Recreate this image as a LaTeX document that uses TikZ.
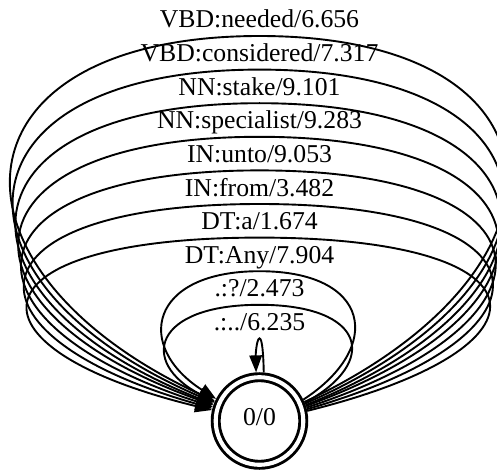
\documentclass[tikz,border=0pt]{standalone}
\usepackage{fontspec}
\usepackage{xfp}
\setmainfont{Liberation Serif}
\usetikzlibrary{arrows.meta}
\newcommand\fstfont{\fontsize{25.7pt}{30pt}\selectfont}
% centre of the state and the radius at which the loops meet its border
\newcommand\stcx{259.5}
\newcommand\stcy{51}
\newcommand\stR{48.75}
% one Newton-like step for the curve parameter where a loop leaves the border
\newcommand\lpstep[2]{\edef\lpU{\fpeval{\lpU*\stR/sqrt((3*(#2)*\lpU*(1-\lpU))^2+((#1)*(\lpU+\lpU^2-\lpU^3))^2)}}}
% #1 label name, #2 apex height above the centre, #3 sideways reach, #4 label text
\newcommand\fstloop[4]{%
  \edef\lpU{\fpeval{\stR/sqrt((3*(#3))^2+(#2)^2)}}%
  \lpstep{#2}{#3}\lpstep{#2}{#3}\lpstep{#2}{#3}\lpstep{#2}{#3}%
  \lpstep{#2}{#3}\lpstep{#2}{#3}\lpstep{#2}{#3}\lpstep{#2}{#3}%
  \edef\lpAng{\fpeval{round(atand((#2)*(\lpU+\lpU^2-\lpU^3),3*(#3)*\lpU*(1-\lpU)),3)}}%
  \edef\lpAngH{\fpeval{180-\lpAng}}%
  \edef\lpAx{\fpeval{round(\stcx+(#3)*(1-\lpU^2),3)}}%
  \edef\lpAxL{\fpeval{round(\stcx-(#3)*(1-\lpU^2),3)}}%
  \edef\lpAy{\fpeval{round(\stcy+(#2)*(1+4*\lpU-2*\lpU^2)/3,3)}}%
  \edef\lpBx{\fpeval{round(\stcx+(#3)*(1-\lpU),3)}}%
  \edef\lpBxL{\fpeval{round(\stcx-(#3)*(1-\lpU),3)}}%
  \edef\lpBy{\fpeval{\stcy+(#2)}}%
  \edef\lpLy{\fpeval{\stcy+(#2)+8}}%
  \draw[fstedge] (q0.\lpAng) .. controls (\lpAx,\lpAy) and (\lpBx,\lpBy) .. (\stcx,\lpBy)
    .. controls (\lpBxL,\lpBy) and (\lpAxL,\lpAy) .. (q0.\lpAngH);
  \node[fstlabel] (#1) at (\stcx,\lpLy) {#4};
}
\begin{document}
\begin{tikzpicture}[x=1pt,y=1pt,
  state/.style={circle, draw, line width=2.9pt, double, double distance=4.1pt,
    minimum size=87.6pt, inner sep=0pt, outer sep=4.95pt,
    text height=14pt, text depth=4.6pt, font=\fstfont},
  fstedge/.style={line width=1.9pt, -{Triangle[length=17pt,width=12.5pt]}},
  fstlabel/.style={anchor=base, inner sep=0pt, font=\fstfont}]
\useasboundingbox (0,0) rectangle (497,472);
\clip (0,0) rectangle (497,472);
\node[state] (q0) at (\stcx,\stcy) {0/0};
\fstloop{l1}{385}{330}{VBD:needed/6.656}
\fstloop{l2}{351.4}{326.25}{VBD:considered/7.317}
\fstloop{l3}{317.8}{322.5}{NN:stake/9.101}
\fstloop{l4}{284.2}{318.75}{NN:specialist/9.283}
\fstloop{l5}{250.6}{315}{IN:unto/9.053}
\fstloop{l6}{217}{311.25}{IN:from/3.482}
\fstloop{l7}{183.4}{307.5}{DT:a/1.674}
\fstloop{l8}{149.8}{127.5}{DT:Any/7.904}
\fstloop{l9}{116.2}{123.5}{.:?/2.473}
\fstloop{l10}{82.6}{5}{.:../6.235}
\end{tikzpicture}
\end{document}
